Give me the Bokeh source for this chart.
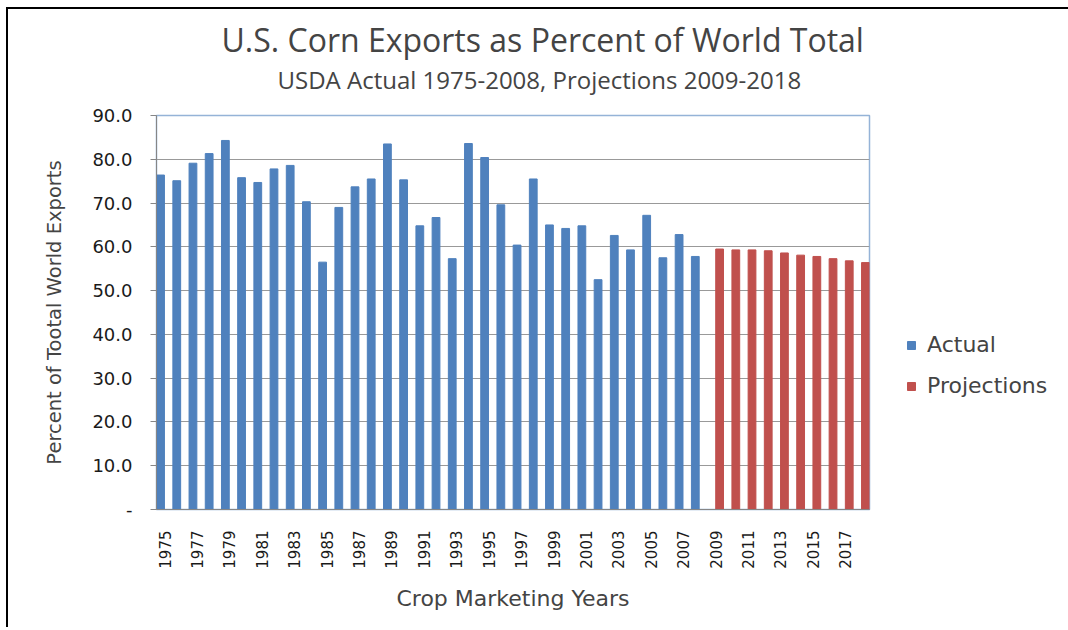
import math
from bokeh.plotting import figure
from bokeh.models import (ColumnDataSource, FixedTicker, Range1d, Legend, LegendItem, Title)
from bokeh.transform import dodge
from bokeh.embed import file_html
from bokeh.resources import INLINE

# ---- data ----
actual_years = [1975, 1976, 1977, 1978, 1979, 1980, 1981, 1982, 1983, 1984, 1985, 1986,
                1987, 1988, 1989, 1990, 1991, 1992, 1993, 1994, 1995, 1996, 1997, 1998,
                1999, 2000, 2001, 2002, 2003, 2004, 2005, 2006, 2007, 2008]
actual_values = [76.4, 75.1, 79.1, 81.3, 84.3, 75.8, 74.7, 77.8, 78.6, 70.3, 56.5, 69.0,
                 73.7, 75.5, 83.5, 75.3, 64.8, 66.7, 57.3, 83.6, 80.4, 69.6, 60.4, 75.5,
                 65.0, 64.2, 64.8, 52.5, 62.6, 59.3, 67.2, 57.5, 62.8, 57.8]
proj_years = [2009, 2010, 2011, 2012, 2013, 2014, 2015, 2016, 2017, 2018]
proj_values = [59.5, 59.3, 59.3, 59.1, 58.6, 58.1, 57.8, 57.3, 56.8, 56.4]
label_years = [1975, 1977, 1979, 1981, 1983, 1985, 1987, 1989, 1991, 1993, 1995, 1997,
               1999, 2001, 2003, 2005, 2007, 2009, 2011, 2013, 2015, 2017]
y_ticks = [0, 10, 20, 30, 40, 50, 60, 70, 80, 90]
title_text = "U.S. Corn Exports as Percent of World Total"
subtitle_text = "USDA Actual 1975-2008, Projections 2009-2018"

TFONT = "Open Sans"
FONT = "DejaVu Sans"
BLUE = "#4F81BD"
RED = "#C0504D"

src_a = ColumnDataSource(dict(year=actual_years, value=actual_values))
src_p = ColumnDataSource(dict(year=proj_years, value=proj_values))

p = figure(frame_width=713, frame_height=394, output_backend="svg", toolbar_location=None,
           x_range=Range1d(actual_years[0] - 0.5, proj_years[-1] + 0.5),
           y_range=Range1d(0, 90),
           min_border_left=148, min_border_right=199, min_border_top=106,
           min_border_bottom=118)
p.styles = {"border-top": "2px solid black", "border-left": "2px solid black",
            "margin-left": "6px", "margin-top": "7px"}

r_a = p.vbar(x=dodge("year", -0.25), top="value", width=0.48, source=src_a,
             fill_color=BLUE, line_color=BLUE)
r_p = p.vbar(x=dodge("year", 0.25), top="value", width=0.48, source=src_p,
             fill_color=RED, line_color=RED)

# frame
p.outline_line_color = "#95B3D7"
p.outline_line_width = 1.5

# titles (a tiny blank spacer keeps the gap between the subtitle and the frame)
p.add_layout(Title(text=" ", text_font_size="2px", standoff=16), "above")
p.add_layout(Title(text=subtitle_text, align="left", text_font=TFONT,
                   text_font_size="24px", text_font_style="normal", offset=121,
                   standoff=0), "above")
p.add_layout(Title(text=title_text, align="left", text_font=TFONT,
                   text_font_size="32px", text_font_style="normal", offset=65,
                   standoff=0), "above")

# y axis
yaxis = p.yaxis[0]
yaxis.ticker = FixedTicker(ticks=y_ticks)
yaxis.major_label_overrides = {t: ("-" if t == 0 else f"{t:.1f}") for t in y_ticks}
yaxis.axis_label = "Percent of Tootal World Exports"
yaxis.axis_label_text_font = FONT
yaxis.axis_label_text_font_size = "19.5px"
yaxis.axis_label_text_font_style = "normal"
yaxis.axis_label_standoff = 23
yaxis.major_label_text_font = FONT
yaxis.major_label_text_font_size = "18px"
yaxis.major_label_text_color = "#1a1a1a"
yaxis.major_label_standoff = 18
yaxis.axis_line_color = "#868686"
yaxis.major_tick_line_color = "#868686"
yaxis.major_tick_out = 6
yaxis.major_tick_in = 0
yaxis.minor_tick_line_color = None

# x axis
xaxis = p.xaxis[0]
xaxis.ticker = FixedTicker(ticks=label_years)
xaxis.major_label_overrides = {y: str(y) for y in label_years}
xaxis.major_label_orientation = math.pi / 2
xaxis.major_label_text_font = FONT
xaxis.major_label_text_font_size = "15px"
xaxis.major_label_text_color = "#1a1a1a"
xaxis.major_label_standoff = 15
xaxis.axis_label = "Crop Marketing Years"
xaxis.axis_label_text_font = FONT
xaxis.axis_label_text_font_size = "22px"
xaxis.axis_label_text_font_style = "normal"
xaxis.axis_label_standoff = 14
xaxis.axis_line_color = "#868686"
xaxis.major_tick_line_color = None
xaxis.minor_tick_line_color = None

# grid
p.xgrid.grid_line_color = None
p.ygrid.ticker = FixedTicker(ticks=y_ticks)
p.ygrid.grid_line_color = "#999999"
p.ygrid.grid_line_width = 1.2

# legend in the right-hand panel
legend = Legend(items=[LegendItem(label="Actual", renderers=[r_a]),
                       LegendItem(label="Projections", renderers=[r_p])],
                location=(37, 111), label_text_font=FONT, label_text_font_size="22px",
                glyph_width=10, glyph_height=10, spacing=16, border_line_color=None,
                background_fill_alpha=0, label_standoff=11)
p.add_layout(legend, "right")

open("out.html", "w").write(file_html(p, INLINE))
